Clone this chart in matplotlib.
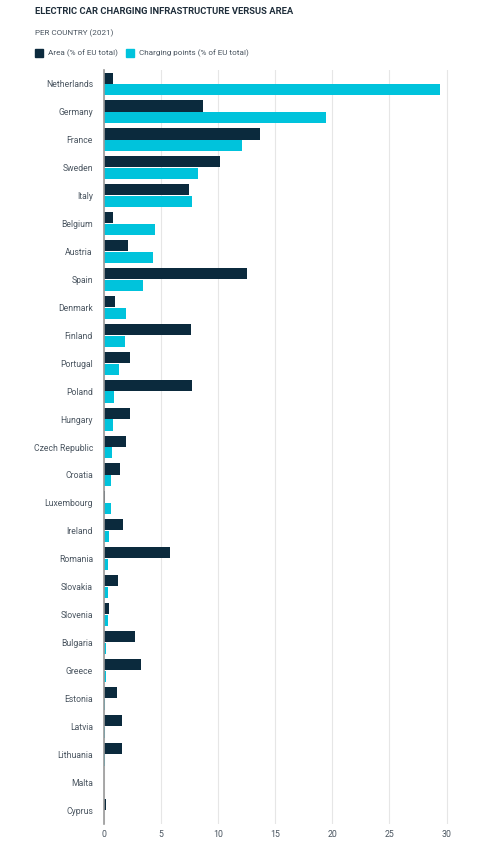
import matplotlib
matplotlib.use("Agg")
import matplotlib.pyplot as plt
import numpy as np
from matplotlib.patches import Rectangle

countries = ["Netherlands", "Germany", "France", "Sweden", "Italy", "Belgium", "Austria",
             "Spain", "Denmark", "Finland", "Portugal", "Poland", "Hungary", "Czech Republic",
             "Croatia", "Luxembourg", "Ireland", "Romania", "Slovakia", "Slovenia", "Bulgaria",
             "Greece", "Estonia", "Latvia", "Lithuania", "Malta", "Cyprus"]
area = [0.8, 8.7, 13.7, 10.2, 7.4, 0.8, 2.1, 12.5, 1.0, 7.6, 2.3, 7.7, 2.3, 1.9,
        1.4, 0.06, 1.7, 5.8, 1.2, 0.47, 2.7, 3.2, 1.1, 1.6, 1.6, 0.01, 0.2]
charging = [29.4, 19.4, 12.1, 8.2, 7.7, 4.5, 4.3, 3.4, 1.9, 1.8, 1.3, 0.9, 0.75, 0.7,
            0.6, 0.6, 0.47, 0.35, 0.35, 0.35, 0.17, 0.17, 0.05, 0.05, 0.05, 0.02, 0.02]
xticks = [0, 5, 10, 15, 20, 25, 30]

plt.rcParams['font.family'] = ['Roboto', 'DejaVu Sans']

c_area = "#0b2a3d"
c_charge = "#00c3dc"
txt = "#4a5560"

fig = plt.figure(figsize=(4.86, 8.47), dpi=100)
ax = fig.add_axes([104/486, 1-824/847, (458-104)/486, (824-70)/847])

y = np.arange(len(countries))
h = 0.4
ax.barh(y - 0.21, area, height=h, color=c_area, zorder=3)
ax.barh(y + 0.21, charging, height=h, color=c_charge, zorder=3)

ax.set_ylim(len(countries) - 0.5, -0.5)
ax.set_xlim(0, 31)
ax.set_yticks(y)
ax.set_yticklabels(countries, fontsize=6.2, color=txt)
ax.set_xticks(xticks)
ax.set_xticklabels([str(t) for t in xticks], fontsize=6.3, color=txt)
ax.tick_params(axis='both', length=0, pad=8)
ax.tick_params(axis='x', pad=4)
ax.grid(axis='x', color='#e6e6e6', linewidth=0.8, zorder=0)
for s in ['top', 'right', 'bottom']:
    ax.spines[s].set_visible(False)
ax.spines['left'].set_color('#9a9a9a')
ax.spines['left'].set_linewidth(1.2)
ax.spines['left'].set_zorder(4)

fig.text(35/486, 1-12/847, "ELECTRIC CAR CHARGING INFRASTRUCTURE VERSUS AREA",
         fontsize=6.75, fontweight='bold', color='#1e2d3a', va='center', ha='left')
fig.text(35/486, 1-33/847, "PER COUNTRY (2021)", fontsize=5.9, color=txt, va='center', ha='left')

# legend
fig.patches.append(Rectangle((35/486, 1-57/847), 8/486, 8/847, transform=fig.transFigure,
                             color=c_area, figure=fig))
fig.text(48/486, 1-53/847, "Area (% of EU total)", fontsize=5.9, color=txt, va='center', ha='left')
fig.patches.append(Rectangle((126/486, 1-57/847), 8/486, 8/847, transform=fig.transFigure,
                             color=c_charge, figure=fig))
fig.text(139/486, 1-53/847, "Charging points (% of EU total)", fontsize=5.9, color=txt, va='center', ha='left')

fig.savefig("out.png", dpi=100, facecolor='white')
